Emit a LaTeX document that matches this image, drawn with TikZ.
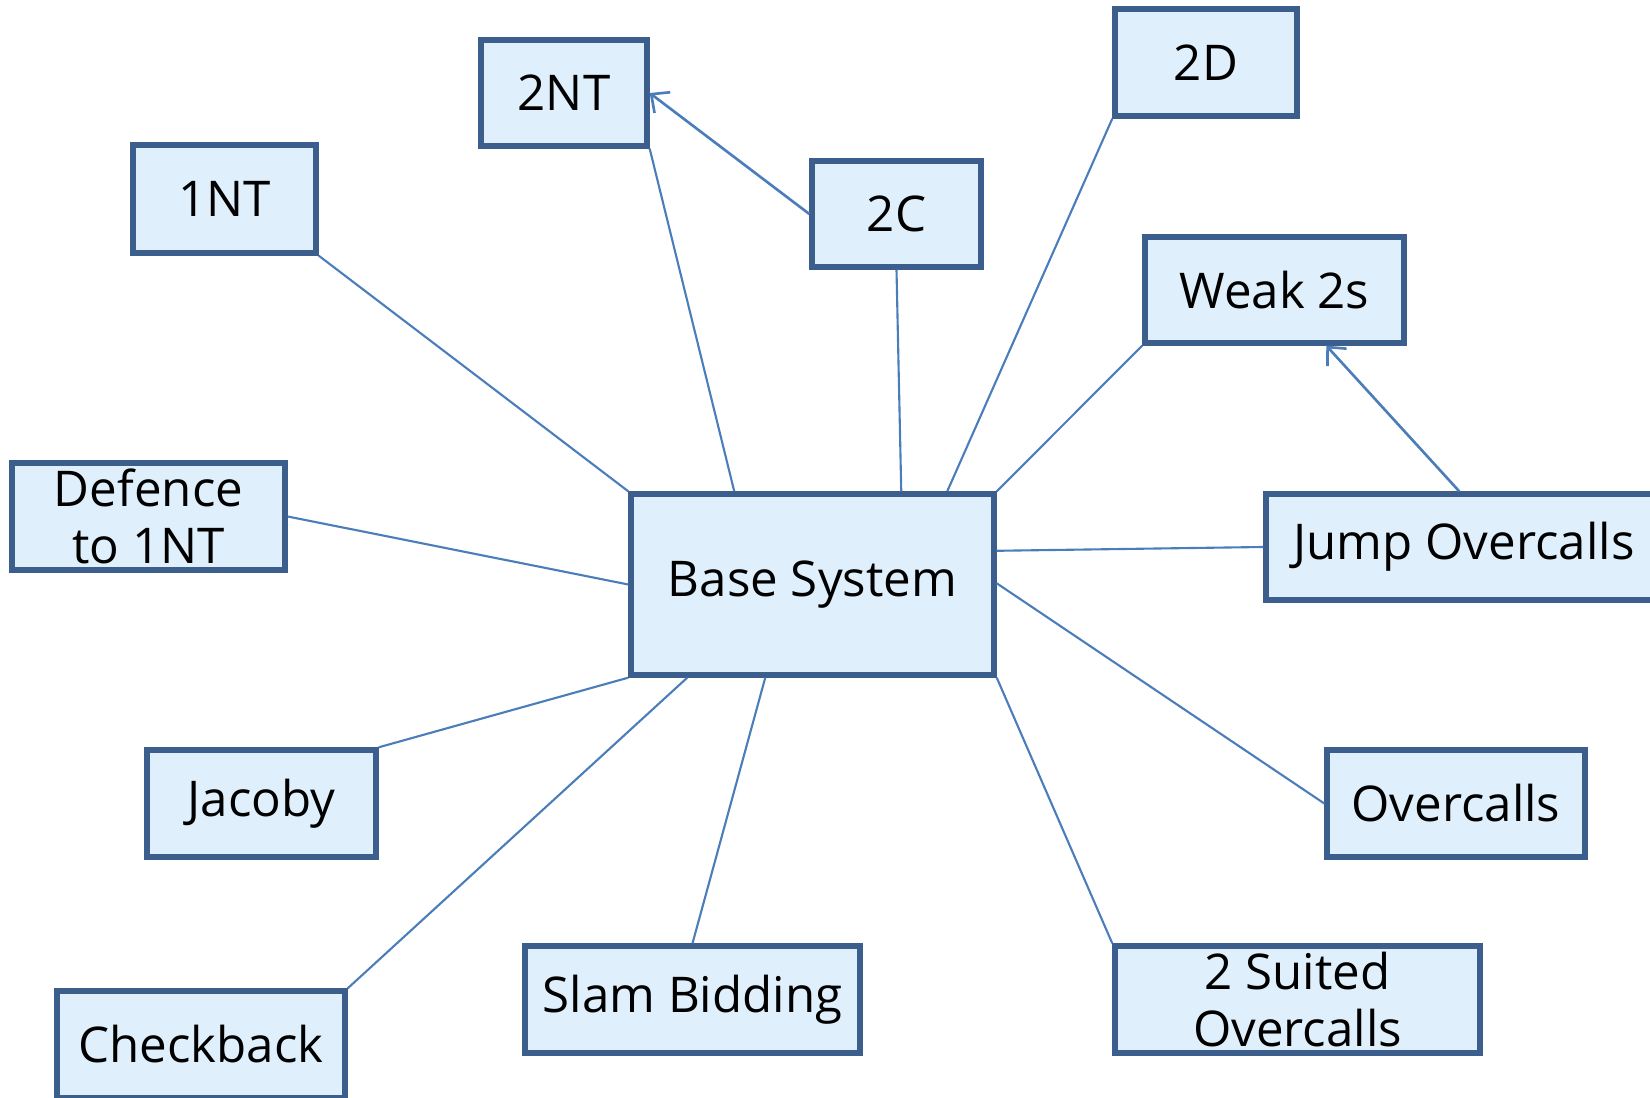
\documentclass[tikz,border=0pt]{standalone}
\usepackage{fontspec}
\setmainfont{Open Sans}
\usetikzlibrary{calc,arrows.meta}
\definecolor{boxborder}{HTML}{3B5E8C}
\definecolor{boxfill}{HTML}{DFF0FC}
\definecolor{linkcol}{HTML}{4A7DBA}
\tikzset{
  topic/.style={rectangle, draw=boxborder, fill=boxfill, line width=1.5pt,
    inner sep=0pt, align=center, font=\fontsize{14}{16}\selectfont},
  link/.style={draw=linkcol, line width=0.6pt},
  linkarrow/.style={draw=linkcol, line width=0.75pt, -{Straight Barb[length=1.4mm,width=2.6mm,line width=0.75pt]}}
}
\begin{document}
\begin{tikzpicture}[x=0.01cm,y=-0.01cm]
\useasboundingbox (0,0) rectangle (1650,1098);
\clip (0,0) rectangle (1650,1098);
% nodes
\node[topic, minimum width=1.83cm, minimum height=1.08cm] (n1NT) at (224.5,199) {1NT};
\node[topic, minimum width=1.66cm, minimum height=1.06cm] (n2NT) at (564,93) {2NT};
\node[topic, minimum width=1.69cm, minimum height=1.06cm] (n2C) at (896.5,214) {2C};
\node[topic, minimum width=1.82cm, minimum height=1.07cm] (n2D) at (1206,62.5) {2D};
\node[topic, minimum width=2.59cm, minimum height=1.06cm] (weak) at (1274.5,290) {Weak 2s};
\node[topic, minimum width=3.96cm, minimum height=1.06cm] (jump) at (1464,547) {Jump Overcalls};
\node[topic, minimum width=2.73cm, minimum height=1.07cm] (defence) at (148.5,516.5) {Defence\\to 1NT};
\node[topic, minimum width=3.63cm, minimum height=1.81cm] (base) at (812.5,584.5) {Base System};
\node[topic, minimum width=2.29cm, minimum height=1.07cm] (jacoby) at (261.5,803.5) {Jacoby};
\node[topic, minimum width=2.58cm, minimum height=1.07cm] (overcalls) at (1456,803.5) {Overcalls};
\node[topic, minimum width=2.88cm, minimum height=1.07cm] (checkback) at (201,1044.5) {Checkback};
\node[topic, minimum width=3.35cm, minimum height=1.07cm] (slam) at (692.5,999.5) {Slam Bidding};
\node[topic, minimum width=3.65cm, minimum height=1.07cm] (suited) at (1297.5,999.5) {2 Suited\\Overcalls};
% attachment points on the base box
\coordinate (bT1) at ($(base.north west)+(106,0)$);
\coordinate (bT2) at ($(base.north west)+(273,0)$);
\coordinate (bT3) at ($(base.north west)+(319,0)$);
\coordinate (bR1) at ($(base.north east)+(0,59.5)$);
\coordinate (bR2) at ($(base.north east)+(0,92)$);
\coordinate (bB1) at ($(base.south west)+(59,0)$);
\coordinate (bB2) at ($(base.south west)+(137,0)$);
\coordinate (jT) at ($(jump.north west)+(196,0)$);
\coordinate (wB) at ($(weak.south west)+(184,0)$);
% connectors
\draw[link] (n1NT.south east) -- (base.north west);
\draw[link] (n2NT.south east) -- (bT1);
\draw[linkarrow] (n2C.west) -- (n2NT.east);
\draw[link] (n2C.south) -- (bT2);
\draw[link] (n2D.south west) -- (bT3);
\draw[link] (weak.south west) -- (base.north east);
\draw[linkarrow] (jT) -- (wB);
\draw[link] (bR1) -- (jump.west);
\draw[link] (defence.east) -- (base.west);
\draw[link] (jacoby.north east) -- (base.south west);
\draw[link] (checkback.north east) -- (bB1);
\draw[link] (slam.north) -- (bB2);
\draw[link] (suited.north west) -- (base.south east);
\draw[link] (overcalls.west) -- (bR2);
\end{tikzpicture}
\end{document}
